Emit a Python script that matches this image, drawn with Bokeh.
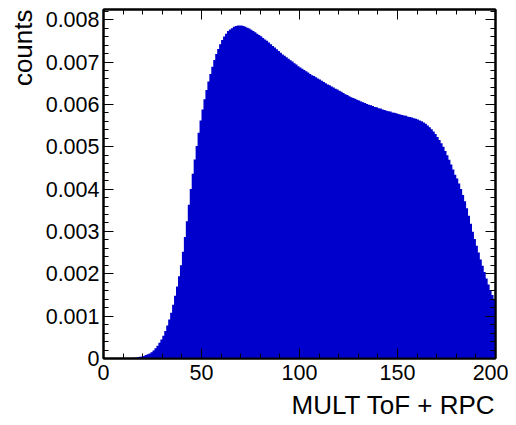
from bokeh.plotting import figure
from bokeh.models import Range1d, LinearAxis, SingleIntervalTicker, CustomJSTickFormatter, Title
from bokeh.embed import file_html
from bokeh.resources import INLINE

# bin edges 0..200 (1 unit bins), contents
bin_edges = list(range(0, 201))
counts = [
    0, 0, 0, 0, 0, 0, 0, 0, 0, 0,
    0.000002, 0.000003, 0.000005, 0.000007, 0.00001, 0.000015, 0.00002, 0.00003, 0.00004, 0.00005,
    0.00006, 0.00008, 0.0001, 0.00012, 0.00015, 0.00019, 0.00024, 0.0003, 0.00037, 0.00045,
    0.00054, 0.00065, 0.00078, 0.00092, 0.00108, 0.00127, 0.00148, 0.0017, 0.00194, 0.0022,
    0.00252, 0.00287, 0.00324, 0.00363, 0.004, 0.00436, 0.0047, 0.00502, 0.00533, 0.00562,
    0.00588, 0.00612, 0.00634, 0.00654, 0.00672, 0.00689, 0.00705, 0.00719, 0.00731, 0.00742,
    0.00752, 0.0076, 0.00767, 0.00773, 0.00777, 0.0078, 0.00783, 0.00785, 0.00786, 0.00786,
    0.00786, 0.00785, 0.00783, 0.00781, 0.00779, 0.00776, 0.00773, 0.0077, 0.00767, 0.00764,
    0.00761, 0.00757, 0.00753, 0.0075, 0.00746, 0.00742, 0.00738, 0.00734, 0.0073, 0.00726,
    0.00722, 0.00718, 0.00715, 0.00711, 0.00708, 0.00704, 0.00701, 0.00697, 0.00694, 0.0069,
    0.00687, 0.00684, 0.00681, 0.00678, 0.00675, 0.00672, 0.00669, 0.00667, 0.00664, 0.00661,
    0.00659, 0.00656, 0.00653, 0.0065, 0.00647, 0.00645, 0.00642, 0.0064, 0.00637, 0.00635,
    0.00632, 0.0063, 0.00627, 0.00624, 0.00622, 0.00619, 0.00617, 0.00615, 0.00613, 0.00611,
    0.00609, 0.00607, 0.00605, 0.00603, 0.00601, 0.00599, 0.00598, 0.00596, 0.00594, 0.00593,
    0.00591, 0.0059, 0.00588, 0.00587, 0.00585, 0.00584, 0.00583, 0.00581, 0.0058, 0.00579,
    0.00577, 0.00576, 0.00575, 0.00574, 0.00573, 0.00571, 0.0057, 0.00569, 0.00567, 0.00566,
    0.00564, 0.00562, 0.0056, 0.00557, 0.00554, 0.0055, 0.00546, 0.00541, 0.00536, 0.0053,
    0.00523, 0.00516, 0.00508, 0.005, 0.0049, 0.0048, 0.00469, 0.00458, 0.00446, 0.00434,
    0.00425, 0.00413, 0.004, 0.00386, 0.00371, 0.00355, 0.00337, 0.00318, 0.00299, 0.00282,
    0.00266, 0.0025, 0.00234, 0.00219, 0.00204, 0.00189, 0.00175, 0.00162, 0.0015, 0.00139,
]
x_title = "MULT ToF + RPC"
y_title = "counts"

FONT = "Liberation Sans"
BLUE = "#0000cc"

p = figure(width=508, height=425, output_backend="svg", toolbar_location=None,
           x_range=Range1d(0, 200), y_range=Range1d(0, 0.00824),
           min_border_left=103, min_border_right=13, min_border_top=9, min_border_bottom=67,
           x_axis_location=None, y_axis_location=None)
p.grid.visible = False
p.outline_line_color = "black"
p.outline_line_width = 2
p.background_fill_color = "white"
p.border_fill_color = "white"

p.varea_step(x=bin_edges, y1=[0] * len(bin_edges), y2=counts + [counts[-1]],
             step_mode="after", fill_color=BLUE)

yfmt = CustomJSTickFormatter(code="return tick < 1e-9 ? '0' : tick.toFixed(3);")


def style(ax, labels=True, standoff=5):
    ax.major_tick_in = 10
    ax.major_tick_out = 0
    ax.minor_tick_in = 5
    ax.minor_tick_out = 0
    ax.major_tick_line_color = "black"
    ax.minor_tick_line_color = "black"
    ax.axis_line_color = "black"
    ax.axis_line_width = 2
    ax.major_label_text_font = FONT
    ax.major_label_text_color = "black"
    if labels:
        ax.major_label_text_font_size = "21.5px"
        ax.major_label_standoff = standoff
    else:
        ax.major_label_text_alpha = 0
        ax.major_label_text_font_size = "1px"
        ax.major_label_standoff = 0


xb = LinearAxis(ticker=SingleIntervalTicker(interval=50, num_minor_ticks=5))
style(xb, True, 6)
p.add_layout(xb, "below")
xt = LinearAxis(ticker=SingleIntervalTicker(interval=50, num_minor_ticks=5))
style(xt, False)
p.add_layout(xt, "above")

yl = LinearAxis(ticker=SingleIntervalTicker(interval=0.001, num_minor_ticks=5), formatter=yfmt)
style(yl, True, 4)
p.add_layout(yl, "left")
yr = LinearAxis(ticker=SingleIntervalTicker(interval=0.001, num_minor_ticks=5))
style(yr, False)
p.add_layout(yr, "right")

p.add_layout(Title(text=x_title, align="right", text_font=FONT, text_font_size="26px",
                   text_font_style="normal", text_color="black", standoff=10), "below")
p.add_layout(Title(text=y_title, align="right", text_font=FONT, text_font_size="26px",
                   text_font_style="normal", text_color="black", standoff=10), "left")

open("out.html", "w").write(file_html(p, INLINE))
